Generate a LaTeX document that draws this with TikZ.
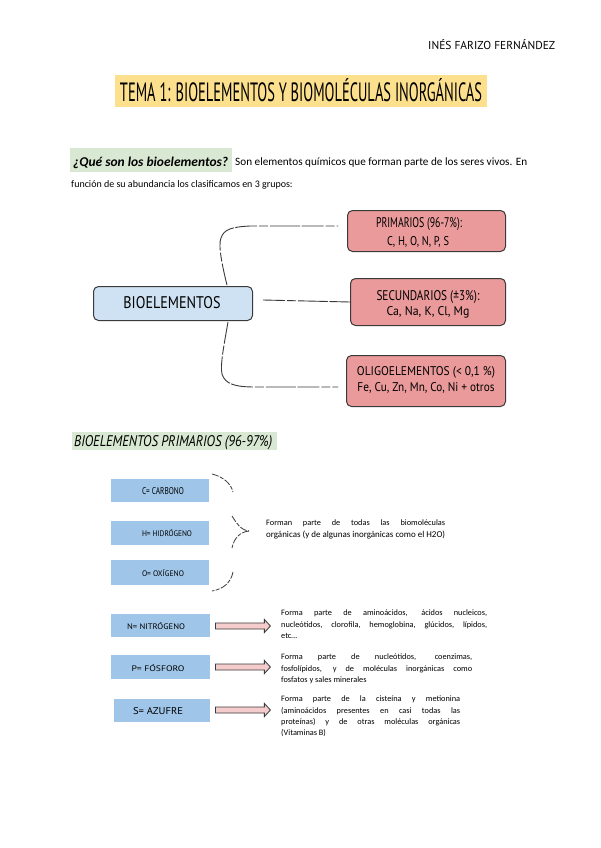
\documentclass[tikz,border=0pt]{standalone}
\usepackage{fontspec}
\setmainfont{Carlito}
\newfontfamily\handfont{PT Sans}
\usetikzlibrary{shapes.arrows}
\definecolor{titleyellow}{HTML}{FDE08E}
\definecolor{hlgreen}{HTML}{D9E8D2}
\definecolor{boxblue}{HTML}{CFE2F3}
\definecolor{boxred}{HTML}{EA9A9A}
\definecolor{elblue}{HTML}{9FC5E8}
\definecolor{arrpink}{HTML}{F4CCCC}
\definecolor{inkgray}{HTML}{3A3A3A}
\newcommand\hw[3]{\resizebox{#1pt}{#2pt}{\handfont #3}}
\tikzset{
  catbox/.style={draw=inkgray, line width=1pt, rounded corners=5pt, fill=boxred},
  rootbox/.style={draw=inkgray, line width=1pt, rounded corners=5pt, fill=boxblue},
  elbox/.style={fill=elblue, draw=none},
  sketch/.style={draw=inkgray, line width=0.9pt, dash pattern=on 22pt off 2pt on 9pt off 2pt on 30pt off 1.5pt},
  bracedash/.style={draw=inkgray, line width=0.8pt, dash pattern=on 7pt off 1.5pt on 4pt off 1.5pt},
  blockarrow/.style={single arrow, draw=inkgray, fill=arrpink, line width=0.8pt,
    minimum height=55pt, inner xsep=0pt, inner ysep=2.6pt, single arrow head extend=3.6pt,
    single arrow tip angle=95},
  body/.style={font=\fontsize{8.3}{11.2}\selectfont, text=black, inner sep=0pt, align=justify, anchor=north west},
}
\newcommand\nohyph{\hyphenpenalty=10000\exhyphenpenalty=10000\relax}
\begin{document}
\begin{tikzpicture}[x=1pt,y=-1pt]
\useasboundingbox (0,0) rectangle (600,848);
\fill[white] (0,0) rectangle (600,848);

% header
\node[anchor=base west, inner sep=0pt] (author) at (428,50) {\hw{127}{10}{INÉS FARIZO FERNÁNDEZ}};

% title
\node[fill=titleyellow, minimum width=372pt, minimum height=32pt, inner sep=0pt] (titlebox) at (301,91) {};
\node[anchor=base, inner sep=0pt] (title) at (301,102) {\hw{362}{23}{TEMA 1: BIOELEMENTOS Y BIOMOLÉCULAS INORGÁNICAS}};

% intro
\node[fill=hlgreen, minimum width=162pt, minimum height=24pt, inner sep=0pt, anchor=north west] (qbox) at (70,148) {};
\node[anchor=base west, inner sep=0pt] (q) at (73,166) {\resizebox{155pt}{!}{\bfseries\itshape ¿Qué son los bioelementos?}};
\node[anchor=base west, inner sep=0pt] (intro1) at (235,165) {\resizebox{292pt}{!}{\fontsize{10}{12}\selectfont Son elementos químicos que forman parte de los seres vivos. En}};
\node[anchor=base west, inner sep=0pt, font=\fontsize{10}{12}\selectfont] (intro2) at (71,187) {función de su abundancia los clasificamos en 3 grupos:};

% mind map
\node[rootbox, minimum width=159pt, minimum height=34pt, inner sep=0pt, anchor=north west] (bio) at (93,286) {};
\node[inner sep=0pt, anchor=base] at (172,308) {\hw{97}{12}{BIOELEMENTOS}};

\node[catbox, minimum width=158pt, minimum height=41pt, inner sep=0pt, anchor=north west] (prim) at (347,210) {};
\node[inner sep=0pt, anchor=base] at (419,227) {\hw{86}{10}{PRIMARIOS (96-7\%):}};
\node[inner sep=0pt, anchor=base] at (418,245) {\hw{62}{9}{C, H, O, N, P, S}};

\node[catbox, minimum width=155pt, minimum height=47pt, inner sep=0pt, anchor=north west] (sec) at (350,278) {};
\node[inner sep=0pt, anchor=base] at (428,300) {\hw{103}{10}{SECUNDARIOS (±3\%):}};
\node[inner sep=0pt, anchor=base] at (428,315) {\hw{83}{9}{Ca, Na, K, Cl, Mg}};

\node[catbox, minimum width=159pt, minimum height=51pt, inner sep=0pt, anchor=north west] (oli) at (346,355) {};
\node[inner sep=0pt, anchor=base] at (426,375) {\hw{138}{9}{OLIGOELEMENTOS (< 0,1 \%)}};
\node[inner sep=0pt, anchor=base] at (426,391) {\hw{137}{9}{Fe, Cu, Zn, Mn, Co, Ni + otros}};

\coordinate (c1a) at (227,285);
\coordinate (c1b) at (338,226);
\coordinate (c2a) at (263,300);
\coordinate (c3a) at (228,322);
\coordinate (c3b) at (338,387);
\draw[sketch] (c1a) .. controls (222,265) and (218,245) .. (221,238)
  .. controls (224,229) and (232,227) .. (250,226) -- (c1b);
\draw[sketch] (c2a) -- (sec.west);
\draw[sketch] (c3a) .. controls (224,345) and (220,365) .. (222,374)
  .. controls (225,384) and (235,387) .. (255,387) -- (c3b);

% section heading
\node[fill=hlgreen, minimum width=205pt, minimum height=18pt, inner sep=0pt, anchor=north west] (secbox) at (72,432) {};
\node[anchor=base west, inner sep=0pt] (sech) at (74,446) {\resizebox{198pt}{11pt}{\handfont\itshape BIOELEMENTOS PRIMARIOS (96-97\%)}};

% C H O
\node[elbox, minimum width=98pt, minimum height=23pt, inner sep=0pt, anchor=north west] (cb) at (111,479) {};
\node[inner sep=0pt, anchor=base] at (163,494) {\hw{42}{7}{C= CARBONO}};
\node[elbox, minimum width=98pt, minimum height=24pt, inner sep=0pt, anchor=north west] (hb) at (111,521) {};
\node[inner sep=0pt, anchor=base] at (167,536) {\hw{50}{7}{H= HIDRÓGENO}};
\node[elbox, minimum width=98pt, minimum height=25pt, inner sep=0pt, anchor=north west] (ob) at (111,560) {};
\node[inner sep=0pt, anchor=base] at (163,576) {\hw{42}{7}{O= OXÍGENO}};

\coordinate (br1) at (212,474);
\coordinate (br2) at (233,492);
\coordinate (br3) at (232,516);
\coordinate (brt) at (249,531);
\coordinate (br4) at (232,548);
\coordinate (br5) at (233,572);
\coordinate (br6) at (212,591);
\draw[bracedash] (br1) .. controls (224,477) and (231,484) .. (br2);
\draw[bracedash] (br3) .. controls (236,522) and (240,530) .. (brt);
\draw[bracedash] (brt) .. controls (240,532) and (234,538) .. (br4);
\draw[bracedash] (br5) .. controls (231,582) and (224,589) .. (br6);

\node[font=\fontsize{8.3}{11.2}\selectfont, inner sep=0pt, align=left, anchor=north west] (chotext) at (266,520) {\makebox[179pt][s]{Forman parte de todas las biomoléculas}\\\resizebox{179pt}{!}{orgánicas (y de algunas inorgánicas como el H2O)}};

% N P S
\node[elbox, minimum width=99pt, minimum height=23pt, inner sep=0pt, anchor=north west] (nb) at (111,614) {};
\node[inner sep=0pt, anchor=base] at (156,629) {\hw{58}{7}{N= NITRÓGENO}};
\node[elbox, minimum width=99pt, minimum height=24pt, inner sep=0pt, anchor=north west] (pb) at (111,655) {};
\node[inner sep=0pt, anchor=base] at (158,671) {\hw{53}{7}{P= FÓSFORO}};
\node[elbox, minimum width=96pt, minimum height=23pt, inner sep=0pt, anchor=north west] (sb) at (114,699) {};
\node[inner sep=0pt, anchor=base] at (158,714) {\hw{50}{7}{S= AZUFRE}};

\node[blockarrow, anchor=west] (na) at (215,626) {};
\node[blockarrow, anchor=west] (pa) at (215,667) {};
\node[blockarrow, anchor=west] (sa) at (215,710) {};

\node[body, text width=206pt] (ntext) at (281,610) {\nohyph Forma parte de aminoácidos, ácidos nucleicos,\linebreak nucleótidos, clorofila, hemoglobina, glúcidos, lípidos,\linebreak etc…};
\node[body, text width=191pt] (ptext) at (281,654) {\nohyph Forma parte de nucleótidos, coenzimas,\linebreak fosfolípidos, y de moléculas inorgánicas como\linebreak fosfatos y sales minerales};
\node[body, text width=179pt] (stext) at (281,696) {\nohyph Forma parte de la cisteína y metionina\linebreak (aminoácidos presentes en casi todas las\linebreak proteínas) y de otras moléculas orgánicas\linebreak (Vitaminas B)};
\end{tikzpicture}
\end{document}
